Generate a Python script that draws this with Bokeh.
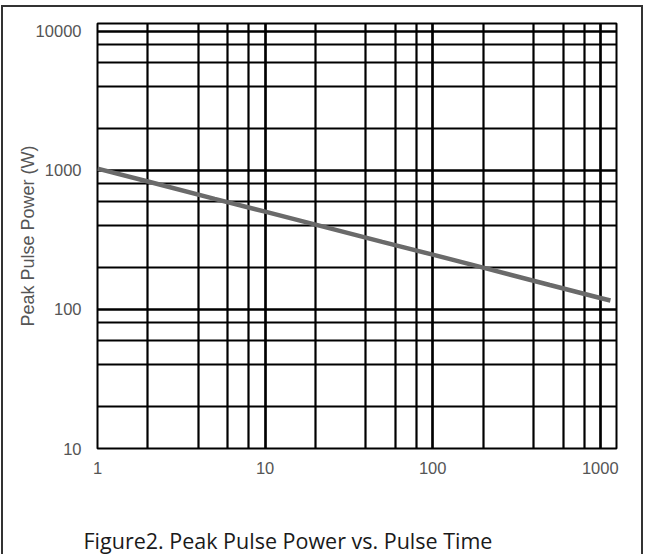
from bokeh.plotting import figure
from bokeh.models import Range1d, LogTicker, PrintfTickFormatter, Title
from bokeh.embed import file_html
from bokeh.resources import INLINE

# Data (log-log curve)
pulse_time = [1, 2, 5, 10, 20, 50, 100, 200, 500, 1000, 1150]
peak_power = [1030, 833, 625, 505, 408, 306, 248, 200, 150, 121, 116]

x_ticks = [1, 10, 100, 1000]
y_ticks = [10, 100, 1000, 10000]
y_title = "Peak Pulse Power (W)"
caption = "Figure2. Peak Pulse Power vs. Pulse Time"

p = figure(width=642, height=549, x_axis_type="log", y_axis_type="log",
           x_range=Range1d(1, 1250), y_range=Range1d(10, 11400),
           output_backend="svg", toolbar_location=None,
           min_border_left=94, min_border_right=29,
           min_border_top=16, min_border_bottom=108)
p.styles = {"border-top": "2px solid #333333", "border-left": "2px solid #333333",
            "border-right": "2px solid #333333", "margin-top": "5px",
            "margin-left": "1px"}
p.background_fill_color = "white"
p.border_fill_color = "white"
p.outline_line_color = "black"
p.outline_line_width = 2

for g in (p.xgrid, p.ygrid):
    g.grid_line_color = "black"
    g.grid_line_width = 2.2
    g.minor_grid_line_color = "black"
    g.minor_grid_line_width = 2.2

p.xaxis.ticker = LogTicker(desired_num_ticks=4)
p.yaxis.ticker = LogTicker(desired_num_ticks=4)
p.xaxis.formatter = PrintfTickFormatter(format="%d")
p.yaxis.formatter = PrintfTickFormatter(format="%d")

for ax in (p.xaxis[0], p.yaxis[0]):
    ax.axis_line_color = None
    ax.major_tick_line_color = None
    ax.minor_tick_line_color = None
    ax.major_tick_out = 0
    ax.minor_tick_out = 0
    ax.major_label_text_font = "Liberation Sans"
    ax.major_label_text_font_size = "16.5px"
    ax.major_label_text_color = "#555555"

p.xaxis.major_label_standoff = 13
p.yaxis.major_label_standoff = 16
p.yaxis.axis_label = y_title
p.yaxis.axis_label_text_font = "Liberation Sans"
p.yaxis.axis_label_text_font_size = "18px"
p.yaxis.axis_label_text_font_style = "normal"
p.yaxis.axis_label_text_color = "#555555"
p.yaxis.axis_label_standoff = -5

p.line(pulse_time, peak_power, line_color="#6a6a6a", line_width=4.5)

p.add_layout(Title(text=caption, align="left", offset=-14, standoff=0,
                   padding=(0, 0, 47, 0), vertical_align="bottom",
                   text_font="Open Sans", text_font_size="21.5px",
                   text_font_style="normal", text_color="#1a1a1a"), "below")

open("out.html", "w").write(file_html(p, INLINE))
